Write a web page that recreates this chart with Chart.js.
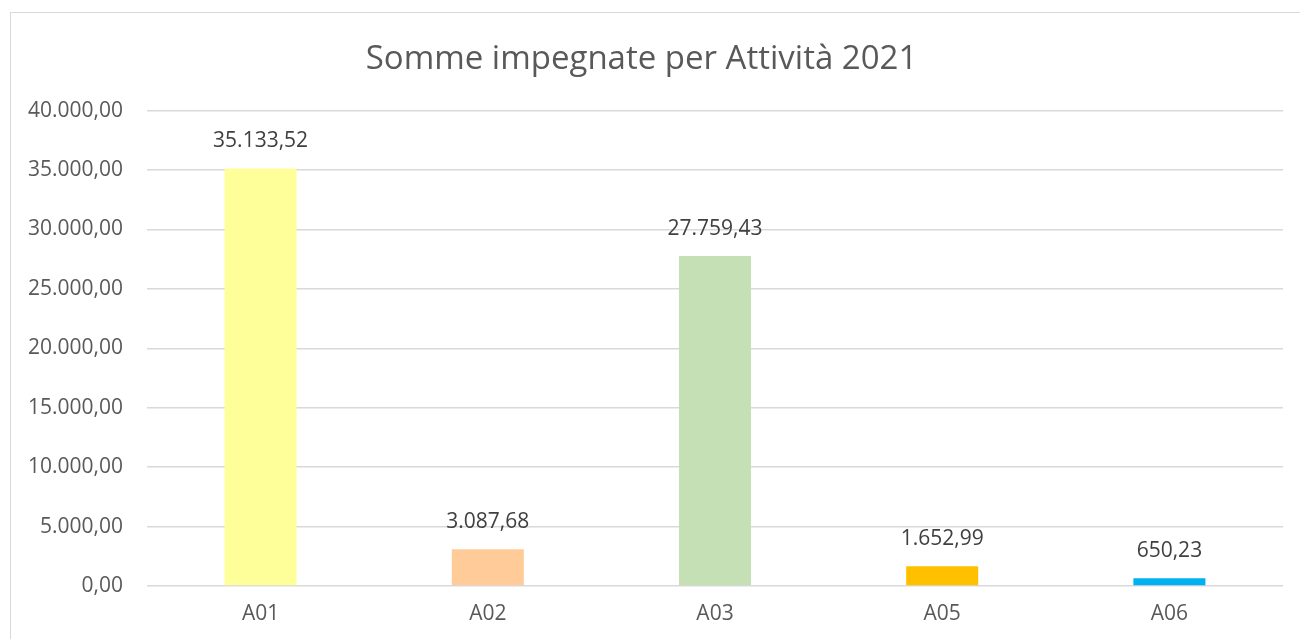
<!DOCTYPE html>
<html><head><meta charset="utf-8">
<script src="https://cdn.jsdelivr.net/npm/chart.js@4/dist/chart.umd.min.js"></script>
<style>html,body{margin:0;padding:0;background:#fff}#c{display:block}</style>
</head><body>
<canvas id="c" width="1300" height="639"></canvas>
<script>
const categories = ["A01", "A02", "A03", "A05", "A06"];
const values = [35133.52, 3087.68, 27759.43, 1652.99, 650.23];
const barColors = ["#FFFF99", "#FFCC99", "#C5E0B4", "#FFC000", "#00B0F0"];
const titleText = "Somme impegnate per Attività 2021";
const yMin = 0, yMax = 40000, yStep = 5000;

function fmt(v) {
  const neg = v < 0; v = Math.abs(v);
  const parts = v.toFixed(2).split(".");
  const intPart = parts[0].replace(/\B(?=(\d{3})+(?!\d))/g, ".");
  return (neg ? "-" : "") + intPart + "," + parts[1];
}
const FONT = "'Open Sans', 'Liberation Sans', sans-serif";

const framePlugin = {
  id: 'frame',
  beforeDraw(chart) {
    const ctx = chart.ctx;
    ctx.save();
    ctx.fillStyle = '#fff';
    ctx.fillRect(0, 0, chart.width, chart.height);
    ctx.strokeStyle = '#d9d9d9';
    ctx.lineWidth = 1;
    ctx.strokeRect(10.5, 12.5, 1400, 800);
    ctx.restore();
  }
};
const labelPlugin = {
  id: 'vlabels',
  afterDatasetsDraw(chart) {
    const ctx = chart.ctx;
    const meta = chart.getDatasetMeta(0);
    ctx.save();
    ctx.font = "21px " + FONT;
    ctx.fillStyle = '#404040';
    ctx.textAlign = 'center';
    ctx.textBaseline = 'middle';
    meta.data.forEach((bar, i) => {
      ctx.fillText(fmt(values[i]), bar.x, bar.y - 27);
    });
    ctx.restore();
  }
};

new Chart(document.getElementById('c'), {
  type: 'bar',
  data: {
    labels: categories,
    datasets: [{ data: values, backgroundColor: barColors, borderWidth: 0,
      barPercentage: 0.317, categoryPercentage: 1 }]
  },
  options: {
    responsive: false,
    animation: false,
    events: [],
    layout: { padding: { top: 0, right: 17, bottom: 0, left: 0 } },
    plugins: {
      legend: { display: false },
      tooltip: { enabled: false },
      title: { display: true, text: titleText, color: '#595959',
        font: { family: FONT, size: 33, weight: 'normal' },
        padding: { top: 40, bottom: 31 } }
    },
    scales: {
      x: {
        grid: { display: false, drawTicks: false },
        border: { display: false },
        ticks: { color: '#595959', font: { family: FONT, size: 21 }, padding: 15 },
        afterFit(scale) { scale.height = 53; }
      },
      y: {
        min: yMin, max: yMax,
        grid: { color: '#d9d9d9', lineWidth: 1.5, drawTicks: false },
        border: { display: false },
        ticks: { stepSize: yStep, color: '#595959', font: { family: FONT, size: 21 }, padding: 24,
          callback: v => fmt(v) },
        afterFit(scale) { scale.width = 147; }
      }
    }
  },
  plugins: [framePlugin, labelPlugin]
});
</script>
</body></html>
